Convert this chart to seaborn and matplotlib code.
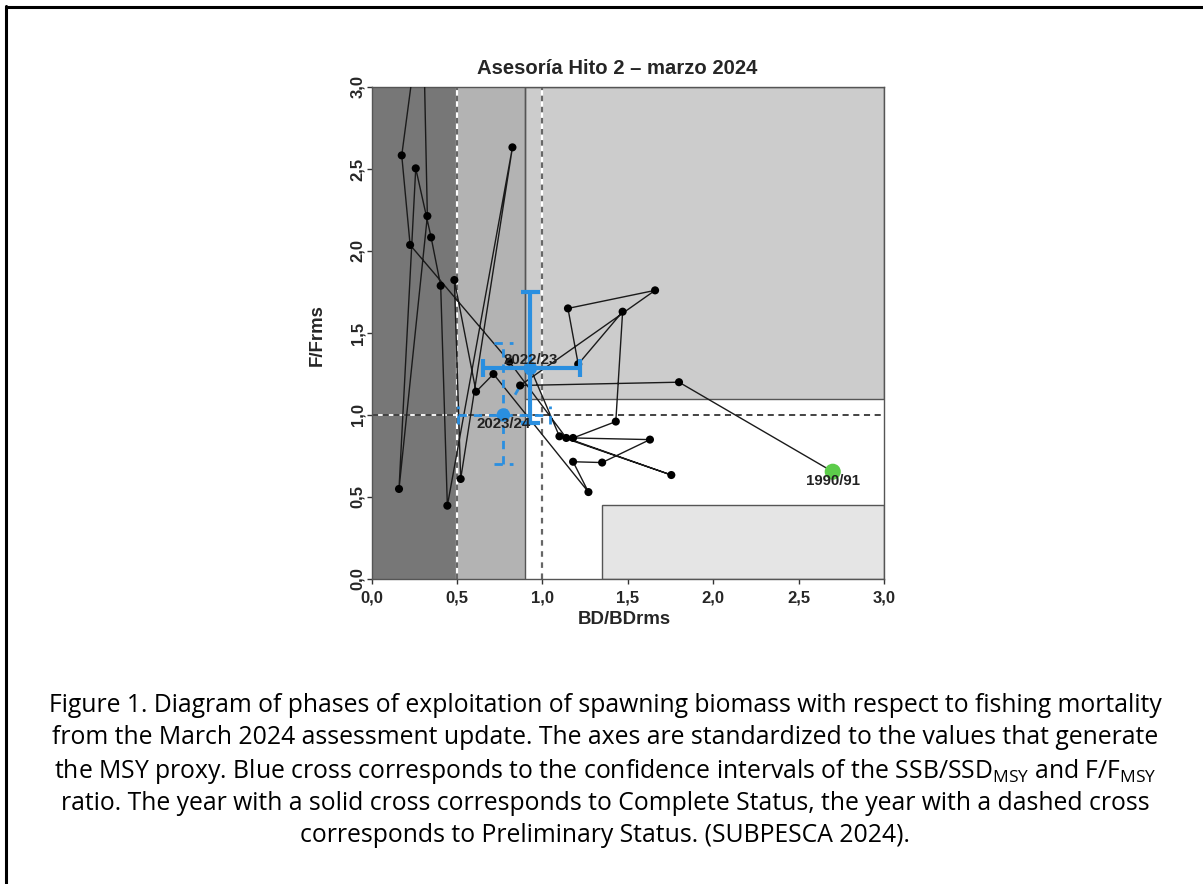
import numpy as np
import pandas as pd
import matplotlib
matplotlib.use("Agg")
import matplotlib.pyplot as plt
import seaborn as sns
from matplotlib.patches import Rectangle
from matplotlib.lines import Line2D

# ---------------- data ----------------
# trajectory BD/BDrms (x) and F/Frms (y), chronological from 1990/91 to 2023/24
bd_ratio = [2.70, 1.80, 0.87, 1.66, 1.15, 1.21, 1.47, 1.43, 1.18, 1.63, 1.35, 1.18, 1.27,
            0.714, 0.612, 0.485, 0.522, 0.825, 0.444, 0.405, 0.349, 0.259, 0.161, 0.327,
            0.30, 0.177, 0.226, 0.807, 1.14, 1.755, 1.10, 0.93, 0.772]
f_ratio = [0.654, 1.20, 1.18, 1.76, 1.65, 1.31, 1.63, 0.96, 0.86, 0.85, 0.71, 0.715, 0.53,
           1.25, 1.142, 1.823, 0.61, 2.632, 0.447, 1.788, 2.083, 2.504, 0.549, 2.213,
           3.55, 2.583, 2.037, 1.325, 0.86, 0.634, 0.87, 1.285, 1.00]

label_years = ["1990/91", "2022/23", "2023/24"]
# confidence intervals for the last two seasons
ci_bd_low = [0.651, 0.509]
ci_bd_high = [1.221, 1.042]
ci_f_low = [0.949, 0.70]
ci_f_high = [1.748, 1.437]

x_ticks = [0.0, 0.5, 1.0, 1.5, 2.0, 2.5, 3.0]
y_ticks = [0.0, 0.5, 1.0, 1.5, 2.0, 2.5, 3.0]

title = "Asesoría Hito 2 – marzo 2024"
x_label = "BD/BDrms"
y_label = "F/Frms"
caption_lines = [
    "Figure 1. Diagram of phases of exploitation of spawning biomass with respect to fishing mortality",
    "from the March 2024 assessment update. The axes are standardized to the values that generate",
    "the MSY proxy. Blue cross corresponds to the confidence intervals of the SSB/SSD$_{MSY}$ and F/F$_{MSY}$",
    "ratio. The year with a solid cross corresponds to Complete Status, the year with a dashed cross",
    "corresponds to Preliminary Status. (SUBPESCA 2024).",
]

df = pd.DataFrame({"bd": bd_ratio, "f": f_ratio, "order": range(len(bd_ratio))})

# ---------------- style ----------------
sns.set_style("white")
plt.rcParams['font.family'] = ['Liberation Sans', 'DejaVu Sans']
plt.rcParams['mathtext.default'] = 'regular'

W, H = 1203, 884
fig = plt.figure(figsize=(W / 100, H / 100), dpi=100)
L, R, T, B = 371.5, 884, 87, 579
ax = fig.add_axes([L / W, 1 - B / H, (R - L) / W, (B - T) / H])
ax.set_xlim(0, 3)
ax.set_ylim(0, 3)

# zones
ax.add_patch(Rectangle((0, 0), 0.5, 3, facecolor="#777777", edgecolor="none", zorder=0))
ax.add_patch(Rectangle((0.5, 0), 0.4, 3, facecolor="#b3b3b3", edgecolor="none", zorder=0))
ax.add_patch(Rectangle((0.9, 1.1), 2.1, 1.9, facecolor="#cccccc", edgecolor="#555555", lw=1.0, zorder=0.5))
ax.add_patch(Rectangle((1.35, 0.0), 1.65, 0.45, facecolor="#e5e5e5", edgecolor="#555555", lw=1.0, zorder=0.5))
ax.plot([0.9, 0.9], [0, 3], color="#555555", lw=1.0, zorder=0.6)

# reference lines
for xv in [0.5, 1.0]:
    ax.plot([xv, xv], [0, 3], color="white", lw=1.6, zorder=1)
    ax.plot([xv, xv], [0, 3], color="#666666", lw=1.6, ls=(0, (2.5, 2.5)), zorder=1.1)
ax.plot([0, 3], [1, 1], color="white", lw=1.3, zorder=1)
ax.plot([0, 3], [1, 1], color="#111111", lw=1.1, ls=(0, (4, 3)), zorder=1.1)

# trajectory (black up to the complete-status season, blue dashed to the preliminary one)
sns.lineplot(data=df.iloc[:-1], x="bd", y="f", sort=False, estimator=None, color="#1a1a1a",
             lw=1.0, ax=ax, zorder=3)
blue = "#2a8fe0"
sns.lineplot(data=df.iloc[-2:], x="bd", y="f", sort=False, estimator=None, color=blue,
             lw=2.0, ls=(0, (2.5, 6)), ax=ax, zorder=3.5)
sns.scatterplot(data=df.iloc[1:-2], x="bd", y="f", color="black", s=34, edgecolor="none",
                ax=ax, zorder=4)

# blue crosses: solid (complete status) and dashed (preliminary status)
cap_dx, cap_dy = 0.055, 0.055
for i, (cx, cy, ls, lw) in enumerate([(bd_ratio[-2], f_ratio[-2], "-", 3.0),
                                      (bd_ratio[-1], f_ratio[-1], (0, (3, 2.5)), 2.0)]):
    segs = [([ci_bd_low[i], ci_bd_high[i]], [cy, cy]),
            ([cx, cx], [ci_f_low[i], ci_f_high[i]]),
            ([ci_bd_low[i]] * 2, [cy - cap_dy, cy + cap_dy]),
            ([ci_bd_high[i]] * 2, [cy - cap_dy, cy + cap_dy]),
            ([cx - cap_dx, cx + cap_dx], [ci_f_low[i]] * 2),
            ([cx - cap_dx, cx + cap_dx], [ci_f_high[i]] * 2)]
    for xs, ys in segs:
        ax.plot(xs, ys, color=blue, lw=lw, ls=ls, zorder=5, solid_capstyle="butt")
sns.scatterplot(x=[bd_ratio[-2], bd_ratio[-1]], y=[f_ratio[-2], f_ratio[-1]], color=blue,
                s=95, edgecolor="none", ax=ax, zorder=6)
sns.scatterplot(x=[bd_ratio[0]], y=[f_ratio[0]], color="#5ccc4a", s=135, edgecolor="none",
                ax=ax, zorder=6)

lab_kw = dict(fontsize=10.8, fontweight="bold", color="#222222", ha="center", zorder=7)
ax.text(bd_ratio[0], f_ratio[0] - 0.055, label_years[0], va="center", **lab_kw)
ax.text(bd_ratio[-2], f_ratio[-2] + 0.05, label_years[1], va="center", **lab_kw)
ax.text(bd_ratio[-1], f_ratio[-1] - 0.055, label_years[2], va="center", **lab_kw)

# axes formatting
ax.set_xticks(x_ticks)
ax.set_yticks(y_ticks)
fmt = lambda v: f"{v:.1f}".replace(".", ",")
ax.set_xticklabels([fmt(v) for v in x_ticks], fontsize=12, fontweight="bold")
ax.set_yticklabels([fmt(v) for v in y_ticks], fontsize=12, fontweight="bold",
                   rotation=90, va="center")
ax.tick_params(axis="both", direction="out", length=3.6, width=1, color="#333333")
ax.tick_params(axis="x", pad=5)
ax.tick_params(axis="y", pad=1.0)
ax.tick_params(left=True, bottom=True)
for s in ax.spines.values():
    s.set_color("#555555")
    s.set_linewidth(1.0)
ax.set_xlabel("")
ax.set_ylabel("")

fig.text(624 / W, 1 - 620 / H, x_label, ha="center", va="center", fontsize=13.4, fontweight="bold")
fig.text(317 / W, 1 - 335 / H, y_label, ha="center", va="center", fontsize=13.4, fontweight="bold",
         rotation=90)
fig.text(617 / W, 1 - 69 / H, title, ha="center", va="center", fontsize=14.6, fontweight="bold")

# caption
cap_y = [705, 738, 771, 803, 836]
for t, yy in zip(caption_lines, cap_y):
    fig.text(605 / W, 1 - yy / H, t, ha="center", va="center", fontsize=17.85,
             color="black", family=["Open Sans", "DejaVu Sans"])

# outer frame (left and top edges)
fig.add_artist(Line2D([6 / W, 6 / W], [0, 1 - 6 / H], color="black", lw=2.2))
fig.add_artist(Line2D([6 / W, 1], [1 - 6.5 / H, 1 - 6.5 / H], color="black", lw=2.2))

fig.savefig("out.png", dpi=100)
